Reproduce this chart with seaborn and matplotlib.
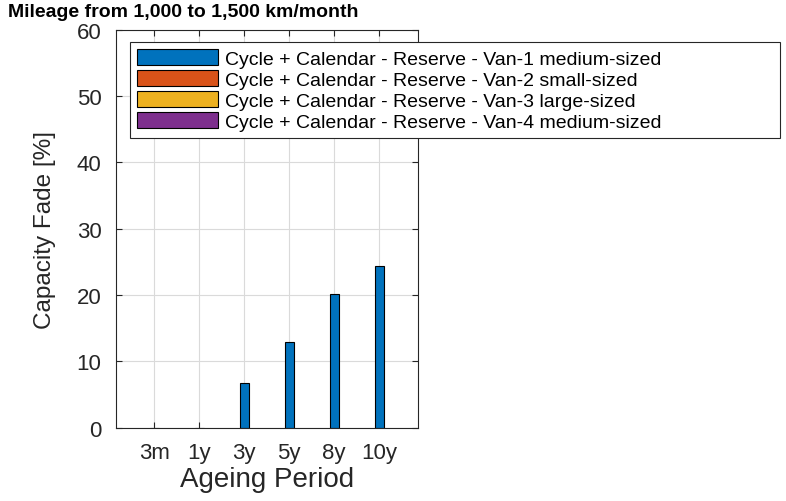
import numpy as np
import pandas as pd
import matplotlib
matplotlib.use("Agg")
import matplotlib.pyplot as plt
import seaborn as sns
from matplotlib.patches import Patch

# data
periods = ["3m", "1y", "3y", "5y", "8y", "10y"]
van1_fade = [0.0, 0.0, 6.8, 12.9, 20.15, 24.35]
series_labels = [
    "Cycle + Calendar - Reserve - Van-1 medium-sized",
    "Cycle + Calendar - Reserve - Van-2 small-sized",
    "Cycle + Calendar - Reserve - Van-3 large-sized",
    "Cycle + Calendar - Reserve - Van-4 medium-sized",
]
series_colors = ["#0072BD", "#D95319", "#EDB120", "#7E2F8E"]

sns.set_theme(style="white")
plt.rcParams["font.family"] = ["Liberation Sans", "DejaVu Sans"]

df = pd.DataFrame({"Period": periods, "Fade": van1_fade})

fig = plt.figure(figsize=(7.86, 5.02), dpi=100)
ax = fig.add_axes([0.1476, 0.146, 0.532 - 0.1476, 0.939 - 0.146])

sns.barplot(data=df, x="Period", y="Fade", color=series_colors[0], width=0.2,
            edgecolor="black", linewidth=0.8, saturation=1, ax=ax)

ax.set_xlim(-0.85, 5.87)
ax.set_ylim(0, 60)
ax.set_yticks(np.arange(0, 61, 10))
ax.grid(True, color="#dadada", linewidth=0.8)
ax.set_axisbelow(True)

grey = "#262626"
for s in ax.spines.values():
    s.set_color(grey)
    s.set_linewidth(0.8)
    s.set_visible(True)
ax.tick_params(direction="in", length=4.5, width=0.8, colors=grey, labelsize=16,
               top=True, right=True, bottom=True, left=True, pad=10.5)
ax.set_xlabel("Ageing Period", fontsize=20, color=grey, labelpad=2)
ax.set_ylabel("Capacity Fade [%]", fontsize=17.5, color=grey)
ax.yaxis.set_label_coords(-0.20, 0.5)

fig.text(0.010, 1 - 17 / 502, "Mileage from 1,000 to 1,500 km/month", fontsize=14,
         fontweight="bold", color="black", va="baseline", ha="left")

handles = [Patch(facecolor=c, edgecolor="black", linewidth=0.8) for c in series_colors]
leg = fig.legend(handles, series_labels, loc="upper left", mode="expand",
                 bbox_to_anchor=(130 / 786, 1 - 43 / 502, 650 / 786, 0.0), fontsize=14,
                 handlelength=4.17, handleheight=0.9, labelspacing=0.12,
                 handletextpad=0.36, borderpad=0.35, borderaxespad=0,
                 fancybox=False, framealpha=1, edgecolor=grey)
leg.get_frame().set_linewidth(0.8)
for t in leg.get_texts():
    t.set_color("black")

fig.savefig("out.png", dpi=100)
